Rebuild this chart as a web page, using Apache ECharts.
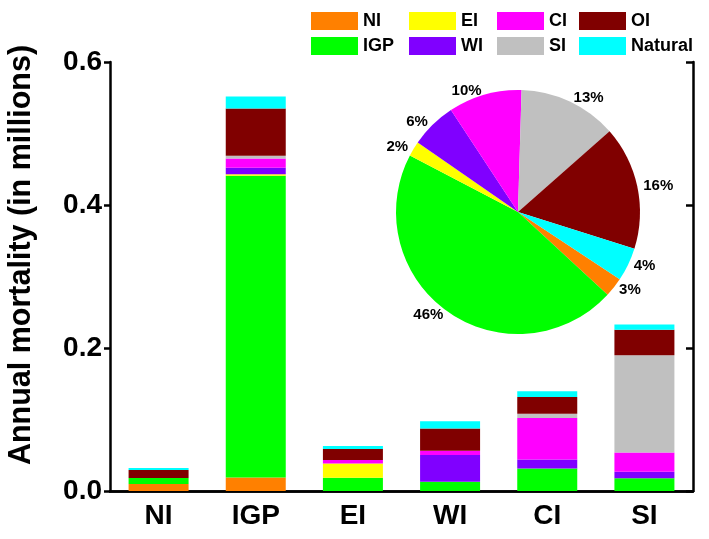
<!DOCTYPE html>
<html>
<head>
<meta charset="utf-8">
<script src="https://cdn.jsdelivr.net/npm/echarts@6/dist/echarts.min.js"></script>
<style>html,body{margin:0;padding:0;background:#fff;}#c{width:709px;height:539px;}</style>
</head>
<body>
<div id="c"></div>
<script>
// Receptor regions (x categories)
var categories = ['NI', 'IGP', 'EI', 'WI', 'CI', 'SI'];
// Source contributions (annual mortality, millions) for each receptor region
var srcNI      = [0.0098, 0.019, 0, 0, 0, 0];
var srcIGP     = [0.0084, 0.422, 0.0186, 0.013, 0.0316, 0.0177];
var srcEI      = [0, 0.002, 0.020, 0, 0, 0];
var srcWI      = [0, 0.009, 0, 0.0372, 0.0126, 0.0093];
var srcCI      = [0, 0.013, 0.0047, 0.006, 0.058, 0.027];
var srcSI      = [0, 0.0038, 0, 0, 0.006, 0.1358];
var srcOI      = [0.011, 0.066, 0.0153, 0.0312, 0.0233, 0.0358];
var srcNatural = [0.003, 0.017, 0.0042, 0.0102, 0.0079, 0.0074];
var yTicks = [0, 0.2, 0.4, 0.6];

var sourceNames = ['NI', 'IGP', 'EI', 'WI', 'CI', 'SI', 'OI', 'Natural'];
var sourceData = [srcNI, srcIGP, srcEI, srcWI, srcCI, srcSI, srcOI, srcNatural];
var colors = ['#FF8000', '#00FF00', '#FFFF00', '#8000FF', '#FF00FF', '#C0C0C0', '#800000', '#00FFFF'];

var FONT = 'Liberation Sans, Arial, sans-serif';

var series = sourceNames.map(function (n, i) {
  return {
    name: n, type: 'bar', stack: 'total', barWidth: 60,
    itemStyle: { color: colors[i] },
    emphasis: { disabled: true },
    data: sourceData[i]
  };
});

var pieData = sourceNames.map(function (n, i) {
  return { name: n, value: sourceData[i].reduce(function (a, b) { return a + b; }, 0), itemStyle: { color: colors[i] } };
});

series.push({
  type: 'pie', z: 10,
  center: [518, 212], radius: 122,
  startAngle: 326.5, clockwise: true,
  percentPrecision: 1,
  emphasis: { disabled: true },
  label: {
    show: true, position: 'outside', color: '#000', fontFamily: FONT, fontWeight: 'bold', fontSize: 15,
    distanceToLabelLine: 2,
    formatter: function (p) { return Math.round(p.percent) + '%'; }
  },
  labelLine: { show: false, length: 4, length2: 0 },
  data: pieData
});

function legendCol(names, left) {
  return {
    orient: 'vertical', left: left, top: 7, itemWidth: 47, itemHeight: 18, itemGap: 7,
    icon: 'rect', selectedMode: false,
    textStyle: { fontFamily: FONT, fontWeight: 'bold', fontSize: 18, color: '#000', padding: [0, 0, 0, 0] },
    data: names
  };
}

var axisLineStyle = { color: '#000', width: 2.5 };
var option = {
  animation: false,
  backgroundColor: '#fff',
  legend: [
    legendCol(['NI', 'IGP'], 306),
    legendCol(['EI', 'WI'], 404),
    legendCol(['CI', 'SI'], 492),
    legendCol(['OI', 'Natural'], 574)
  ],
  graphic: [{
    type: 'text', x: 22, y: 255, rotation: Math.PI / 2,
    style: {
      text: 'Annual mortality (in millions)', fill: '#000',
      font: 'bold 30.5px ' + FONT, align: 'center', verticalAlign: 'middle'
    }
  }],
  grid: { left: 110, right: 16, top: 62, bottom: 48 },
  xAxis: [{
    type: 'category', data: categories, position: 'bottom',
    axisLine: { lineStyle: axisLineStyle },
    axisTick: { alignWithLabel: true, length: 9, lineStyle: { width: 2.5, color: '#000' } },
    axisLabel: { fontFamily: FONT, fontWeight: 'bold', fontSize: 28, color: '#000', margin: 11 }
  }, {
    type: 'category', data: categories, position: 'top',
    axisLine: { lineStyle: axisLineStyle },
    axisTick: { alignWithLabel: true, inside: true, length: 7, lineStyle: { width: 2.5, color: '#000' } },
    axisLabel: { show: false }
  }],
  yAxis: [{
    type: 'value', min: yTicks[0], max: yTicks[yTicks.length - 1], interval: 0.2, position: 'left',
    axisLine: { show: true, lineStyle: axisLineStyle },
    axisTick: { show: true, length: 6, lineStyle: { width: 2.5, color: '#000' } },
    splitLine: { show: false },
    axisLabel: { fontFamily: FONT, fontWeight: 'bold', fontSize: 28, color: '#000', margin: 8,
      formatter: function (v) { return v.toFixed(1); } }
  }, {
    type: 'value', min: yTicks[0], max: yTicks[yTicks.length - 1], interval: 0.2, position: 'right',
    axisLine: { show: true, lineStyle: axisLineStyle },
    axisTick: { show: true, inside: true, length: 7, lineStyle: { width: 2.5, color: '#000' } },
    splitLine: { show: false },
    axisLabel: { show: false }
  }],
  series: series
};

var chart = echarts.init(document.getElementById('c'), null, { renderer: 'canvas' });
chart.setOption(option);
</script>
</body>
</html>
